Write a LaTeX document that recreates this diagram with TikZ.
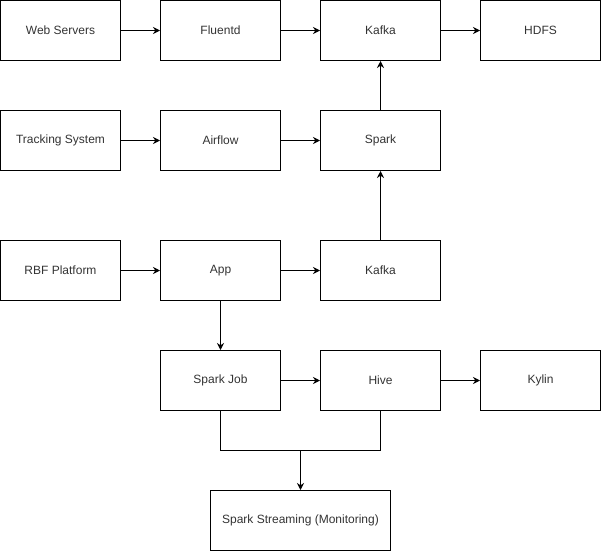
\documentclass[tikz,border=0pt]{standalone}
\usepackage{fontspec}
\setmainfont{Liberation Sans}
\usetikzlibrary{arrows.meta}

\begin{document}
\begin{tikzpicture}[x=1pt,y=-1pt,
			box/.style={draw,line width=1pt,minimum width=120pt,minimum height=60pt,
				inner sep=0pt,text=black!80,font=\fontsize{12}{14}\selectfont},
			flow/.style={-{Stealth[length=7pt,width=7pt]},line width=1pt}]
\useasboundingbox (0,0) rectangle (601,551);
% first row
\node[box](web) at (60.5,30.5){Web Servers};
\node[box](fluentd) at (220.5,30.5){Fluentd};
\node[box](kafkaA) at (380.5,30.5){Kafka};
\node[box](hdfs) at (540.5,30.5){HDFS};
% second row
\node[box](tracking) at (60.5,140.5){Tracking System};
\node[box](airflow) at (220.5,140.5){Airflow};
\node[box](spark) at (380.5,140.5){Spark};
% third row
\node[box](rbf) at (60.5,270.5){RBF Platform};
\node[box](app) at (220.5,270.5){App};
\node[box](kafkaB) at (380.5,270.5){Kafka};
% fourth row
\node[box](sparkjob) at (220.5,380.5){Spark Job};
\node[box](hive) at (380.5,380.5){Hive};
\node[box](kylin) at (540.5,380.5){Kylin};
\node[box,minimum width=180pt](streaming) at (300.5,520.5){Spark Streaming (Monitoring)};
\coordinate (join) at (300.5,450.5);

\draw[flow] (web) -- (fluentd);
\draw[flow] (fluentd) -- (kafkaA);
\draw[flow] (kafkaA) -- (hdfs);
\draw[flow] (tracking) -- (airflow);
\draw[flow] (airflow) -- (spark);
\draw[flow] (spark) -- (kafkaA);
\draw[flow] (rbf) -- (app);
\draw[flow] (app) -- (kafkaB);
\draw[flow] (kafkaB) -- (spark);
\draw[flow] (app) -- (sparkjob);
\draw[flow] (sparkjob) -- (hive);
\draw[flow] (hive) -- (kylin);
\draw[line width=1pt] (sparkjob.south) |- (join) -| (hive.south);
\draw[flow] (join) -- (streaming);
\end{tikzpicture}
\end{document}
